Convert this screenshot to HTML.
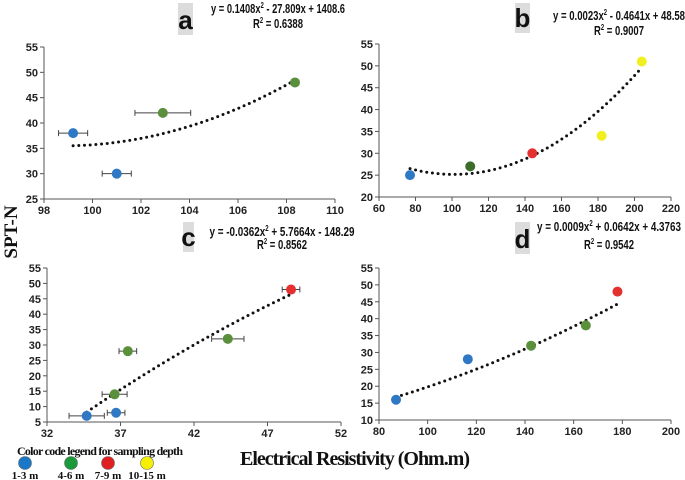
<!DOCTYPE html>
<html><head><meta charset="utf-8"><style>
body{margin:0;background:#fff}
svg{display:block}
.t{font-family:"Liberation Sans",sans-serif;font-size:11px;fill:#222;font-weight:bold}
.eq{font-family:"Liberation Sans",sans-serif;font-size:13px;fill:#111;font-weight:bold}
.lab{font-family:"Liberation Sans",sans-serif;font-size:26px;font-weight:bold;fill:#111}
.ser{font-family:"Liberation Serif",serif;font-weight:bold;fill:#111}
</style></head><body>
<svg id="s" width="685" height="480" viewBox="0 0 685 480" xmlns="http://www.w3.org/2000/svg">
<text class="ser" x="240" y="465" font-size="20" textLength="230">Electrical Resistivity (Ohm.m)</text>
<text class="ser" transform="translate(17,232) rotate(-90)" text-anchor="middle" font-size="19">SPT-N</text>
<g>
<text class="ser" x="17" y="455" font-size="12" textLength="166">Color code legend for sampling depth</text>
<circle cx="25" cy="463" r="6.5" fill="#1a78c8" stroke="#666" stroke-width="0.6"/>
<circle cx="71" cy="463" r="6.5" fill="#1a9a3a" stroke="#666" stroke-width="0.6"/>
<circle cx="108" cy="463" r="6.5" fill="#e02020" stroke="#666" stroke-width="0.6"/>
<circle cx="147" cy="463" r="6.5" fill="#f5f000" stroke="#666" stroke-width="0.6"/>
<text class="ser" x="25" y="479" font-size="11" text-anchor="middle">1-3 m</text>
<text class="ser" x="71" y="479" font-size="11" text-anchor="middle">4-6 m</text>
<text class="ser" x="108" y="479" font-size="11" text-anchor="middle">7-9 m</text>
<text class="ser" x="147" y="479" font-size="11" text-anchor="middle">10-15 m</text>
</g>
</svg>
<script>
// Panel a
const aX=[99.2,101.0,102.9,108.35], aY=[38,30,42,48], aErr=[0.6,0.6,1.15,0.15], aCol=['b','b','g','g'];
const aCoef=[0.1408,-27.809,1408.6], aXT=[98,100,102,104,106,108,110], aYT=[25,30,35,40,45,50,55];
// Panel b
const bX=[77,110,144,182,204], bY=[25,27,30,34,51], bErr=[0,0,0,0,0], bCol=['b','dg','r','y','y'];
const bCoef=[0.0023,-0.4641,48.58], bXT=[60,80,100,120,140,160,180,200,220], bYT=[20,25,30,35,40,45,50,55];
// Panel c
const cX=[34.7,36.6,36.7,37.5,44.3,48.6], cY=[7,14,8,28,32,48], cErr=[1.2,0.85,0.6,0.6,1.1,0.6], cCol=['b','g','b','g','g','r'];
const cCoef=[-0.0362,5.7664,-148.29], cXT=[32,37,42,47,52], cYT=[5,10,15,20,25,30,35,40,45,50,55];
// Panel d
const dX=[87,116.5,142.5,165,178], dY=[16,28,32,38,48], dErr=[0,0,0,0,0], dCol=['b','b','g','g','r'];
const dCoef=[0.0009,0.0642,4.3763], dXT=[80,100,120,140,160,180,200], dYT=[10,15,20,25,30,35,40,45,50,55];

const COL={b:'#2f78c4',g:'#5a8f3c',dg:'#3d6b2c',r:'#e53030',y:'#f0f020'};
const NS='http://www.w3.org/2000/svg', svg=document.getElementById('s');
function mk(t,a,p){const e=document.createElementNS(NS,t);for(const k in a)e.setAttribute(k,a[k]);(p||svg).appendChild(e);return e;}

function panel(id,xs,ys,errs,cols,coef,xt,yt,px0,px1,py0,py1,letter,box,eq1,eq2,eqx,eqy,eqy2,w1,w2){
  const g=mk('g',{});
  
  
  const xmin=xt[0],xmax=xt[xt.length-1],ymin=yt[0],ymax=yt[yt.length-1];
  const sx=v=>px0+(v-xmin)/(xmax-xmin)*(px1-px0);
  const sy=v=>py0-(v-ymin)/(ymax-ymin)*(py0-py1);
  const ax=mk('line',{x1:px0,y1:py0,x2:px1,y2:py0,stroke:'#555','stroke-width':1},g);
  
  
  const ay=mk('line',{x1:px0,y1:py0,x2:px0,y2:py1,stroke:'#555','stroke-width':1},g);
  
  
  xt.forEach(v=>{
    mk('line',{x1:sx(v),y1:py0,x2:sx(v),y2:py0+4,stroke:'#555'},g);
    const t=mk('text',{x:sx(v),y:py0+15,'text-anchor':'middle',class:'t'},g);t.textContent=v;
    
    
  });
  yt.forEach(v=>{
    mk('line',{x1:px0-4,y1:sy(v),x2:px0,y2:sy(v),stroke:'#555'},g);
    const t=mk('text',{x:px0-6,y:sy(v)+4,'text-anchor':'end',class:'t'},g);t.textContent=v;
    
    
  });
  const x0=Math.min(...xs),x1=Math.max(...xs);let d='';
  for(let i=0;i<=60;i++){const x=x0+(x1-x0)*i/60;const y=coef[0]*x*x+coef[1]*x+coef[2];d+=(i?'L':'M')+sx(x).toFixed(2)+' '+sy(y).toFixed(2);}
  const tr=mk('path',{d:d,fill:'none',stroke:'#111','stroke-width':3,'stroke-linecap':'round','stroke-dasharray':'0 5.7'},g);
  
  
  xs.forEach((x,i)=>{
    if(errs[i]>0){
      const e=mk('path',{d:`M${sx(x-errs[i])} ${sy(ys[i])}H${sx(x+errs[i])}M${sx(x-errs[i])} ${sy(ys[i])-3}v6M${sx(x+errs[i])} ${sy(ys[i])-3}v6`,stroke:'#444','stroke-width':1,fill:'none'},g);
      
      
    }
    const c=mk('circle',{cx:sx(x),cy:sy(ys[i]),r:5,fill:COL[cols[i]]},g);
    
    
  });
  const r=mk('rect',{x:box[0],y:box[1],width:box[2],height:box[3],fill:'#dcdcdc'},g);
  
  
  const l=mk('text',{x:box[0]+box[2]/2,y:box[1]+box[3]-6,'text-anchor':'middle',class:'lab'},g);l.textContent=letter;
  
  
  const e1=mk('text',{x:eqx-w1/2,y:eqy,class:'eq',textLength:w1,lengthAdjust:'spacingAndGlyphs'},g);e1.innerHTML=eq1;
  
  
  const e2=mk('text',{x:eqx-w2/2,y:eqy2,class:'eq',textLength:w2,lengthAdjust:'spacingAndGlyphs'},g);e2.innerHTML=eq2;
  
  
}
const sup='<tspan font-size="8" dy="-5">2</tspan><tspan dy="5">';
panel('a',aX,aY,aErr,aCol,aCoef,aXT,aYT,44,335,199,47,'a',[178,3,15,32],'y = 0.1408x'+sup+' - 27.809x + 1408.6</tspan>','R'+sup+' = 0.6388</tspan>',278,13,28,134,50);
panel('b',bX,bY,bErr,bCol,bCoef,bXT,bYT,379,671,197,44,'b',[515,3,15,30],'y = 0.0023x'+sup+' - 0.4641x + 48.58</tspan>','R'+sup+' = 0.9007</tspan>',619,20,35,132,50);
panel('c',cX,cY,cErr,cCol,cCoef,cXT,cYT,47,341,422,268,'c',[183,222,11,30],'y = -0.0362x'+sup+' + 5.7664x - 148.29</tspan>','R'+sup+' = 0.8562</tspan>',282,236,249,145,50);
panel('d',dX,dY,dErr,dCol,dCoef,dXT,dYT,379,671,420,268,'d',[515,222,15,32],'y = 0.0009x'+sup+' + 0.0642x + 4.3763</tspan>','R'+sup+' = 0.9542</tspan>',609,231,249,144,50);
</script>
</body></html>
